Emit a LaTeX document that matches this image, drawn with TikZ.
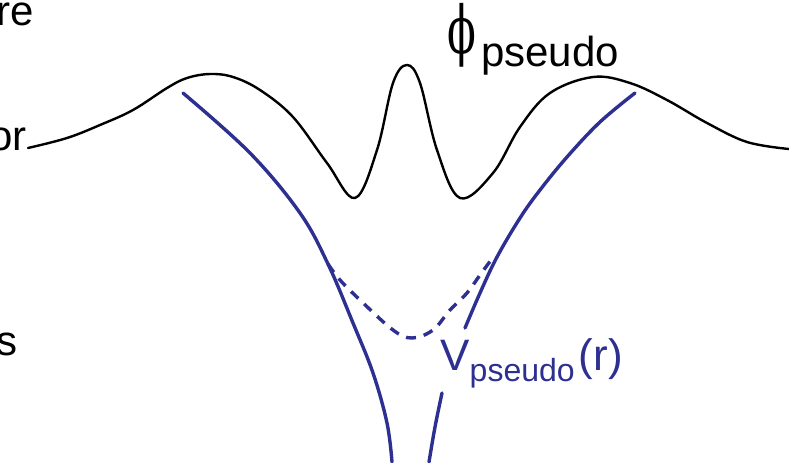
\documentclass[tikz,border=0pt]{standalone}
\usepackage{fontspec}
\setmainfont{Liberation Sans}
\newfontfamily\phifont{DejaVu Serif}
\usepackage{xcolor}
\usetikzlibrary{positioning}

\definecolor{potblue}{RGB}{45,47,145}

\begin{document}
\begin{tikzpicture}[
    x=0.5pt, y=-0.5pt,
    wave/.style={line width=1.2pt, black, line cap=round},
    pot/.style={line width=1.7pt, potblue, line cap=round},
    potdash/.style={pot, dash pattern=on 5pt off 4pt, line cap=butt},
    cut/.style={font=\fontsize{21}{25}\selectfont, inner sep=0pt, anchor=base east},
    vlabel/.style={font=\fontsize{22}{26}\selectfont, text=potblue, inner sep=0pt, anchor=base west},
]
\useasboundingbox (0,0) rectangle (789,462);

% cut-off words at the left edge
\node[cut] (re) at (34,25) {re};
\node[cut] (or) at (27,150) {or};
\node[cut] (s) at (18,355) {s};

% pseudo wave function
\draw[wave] plot[smooth, tension=0.6] coordinates {
    (28,148) (67,138) (100,125) (133,110) (167,88) (187,78) (210,74)
    (233,77) (260,90) (293,117) (327,163) (355,198) (377,150) (393,83)
    (407,65) (420,83) (437,150) (460,198) (493,173) (520,127) (550,93)
    (593,77) (630,83) (667,100) (707,123) (747,142) (789,149)};
\node[inner sep=0pt, anchor=base west] (phi) at (447,53)
    {\scalebox{0.64}[1]{\phifont\fontsize{33}{34}\selectfont ϕ}%
     \hspace{2.5pt}\raisebox{-6.5pt}{\fontsize{21}{21}\selectfont pseudo}};

% potentials
\draw[pot] plot[smooth, tension=0.6] coordinates {
    (183,93) (250,153) (300,213) (328,264) (353,323) (373,373)
    (387,423) (392,462)};
\draw[pot] plot[smooth, tension=0.6] coordinates {
    (635,93) (600,122) (567,157) (540,190) (520,218) (497,257)
    (480,293) (465,328)};
\draw[pot] plot[smooth, tension=0.6] coordinates {
    (442,393) (435,427) (429,462)};
\draw[potdash] plot[smooth, tension=0.6] coordinates {
    (328,264) (340,280) (360,300) (393,330) (412,338) (433,330)
    (450,310) (467,293) (480,275) (494,256)};

\node[vlabel] (vps) at (440,370)
    {V\raisebox{-5.5pt}{\fontsize{16}{16}\selectfont pseudo}\kern2pt(r)};

\end{tikzpicture}
\end{document}
